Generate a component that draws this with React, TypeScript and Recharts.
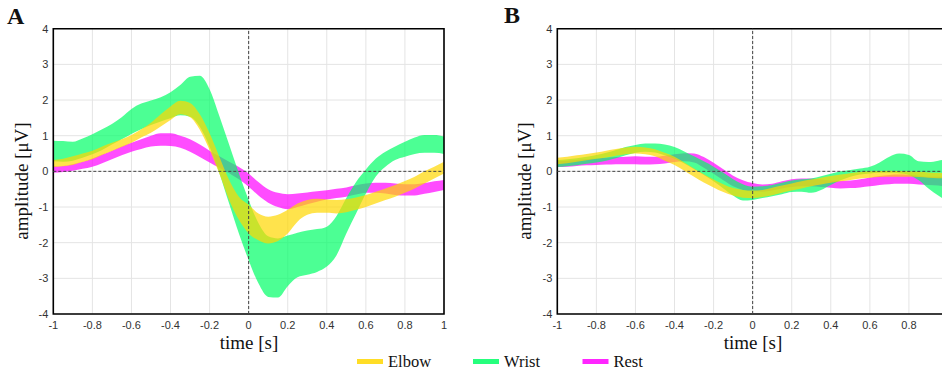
import React from "react";
import {
  ComposedChart,
  Area,
  XAxis,
  YAxis,
  CartesianGrid,
  ReferenceLine,
  ReferenceArea,
} from "recharts";

// sample grid in seconds, -1 .. 1 every 0.05
const TIMES = Array.from({ length: 41 }, (_, i) => Math.round((-1 + i * 0.05) * 100) / 100);

const X_TICKS_A = [-1, -0.8, -0.6, -0.4, -0.2, 0, 0.2, 0.4, 0.6, 0.8, 1];
// panel B is cropped at the right edge of the figure, its "1" label falls outside
const X_TICKS_B = [-1, -0.8, -0.6, -0.4, -0.2, 0, 0.2, 0.4, 0.6, 0.8];
const Y_TICKS = [-4, -3, -2, -1, 0, 1, 2, 3, 4];

// panel A (confidence bands: upper / lower edge)
const ELBOW_A_HI = [0.32, 0.35, 0.42, 0.5, 0.58, 0.7, 0.8, 0.9, 1.02, 1.18, 1.36, 1.6, 1.82, 1.98, 1.92, 1.6, 1.07, 0.41, -0.24, -0.71, -0.94, -1.18, -1.27, -1.22, -1.08, -0.9, -0.8, -0.77, -0.79, -0.8, -0.78, -0.73, -0.66, -0.57, -0.48, -0.38, -0.27, -0.15, 0.0, 0.13, 0.27];
const ELBOW_A_LO = [0.12, 0.14, 0.18, 0.26, 0.34, 0.46, 0.57, 0.68, 0.8, 0.95, 1.08, 1.26, 1.44, 1.6, 1.52, 1.17, 0.6, -0.06, -0.8, -1.36, -1.74, -1.93, -2.02, -1.95, -1.74, -1.41, -1.22, -1.16, -1.16, -1.18, -1.15, -1.08, -1.0, -0.9, -0.8, -0.71, -0.6, -0.48, -0.34, -0.2, -0.06];
const WRIST_A_HI = [0.86, 0.85, 0.83, 0.92, 1.04, 1.18, 1.33, 1.52, 1.75, 1.9, 1.99, 2.08, 2.22, 2.42, 2.65, 2.68, 2.3, 1.55, 0.75, -0.05, -0.8, -1.45, -1.82, -1.88, -1.8, -1.72, -1.66, -1.62, -1.55, -1.25, -0.75, -0.3, 0.05, 0.35, 0.55, 0.7, 0.83, 0.95, 1.02, 1.02, 0.98];
const WRIST_A_LO = [0.28, 0.27, 0.3, 0.38, 0.48, 0.6, 0.75, 0.9, 1.05, 1.18, 1.3, 1.4, 1.49, 1.57, 1.53, 1.25, 0.69, -0.05, -0.9, -1.74, -2.49, -3.14, -3.52, -3.54, -3.22, -2.97, -2.9, -2.82, -2.67, -2.35, -1.74, -1.18, -0.62, -0.15, 0.13, 0.32, 0.41, 0.49, 0.52, 0.52, 0.49];
const REST_A_HI = [0.14, 0.15, 0.2, 0.27, 0.36, 0.47, 0.58, 0.7, 0.8, 0.9, 1.0, 1.07, 1.07, 1.0, 0.9, 0.75, 0.58, 0.42, 0.27, 0.12, -0.06, -0.3, -0.5, -0.6, -0.64, -0.62, -0.59, -0.56, -0.53, -0.49, -0.45, -0.39, -0.34, -0.32, -0.32, -0.34, -0.36, -0.36, -0.33, -0.28, -0.24];
const REST_A_LO = [-0.04, -0.02, 0.02, 0.07, 0.13, 0.23, 0.34, 0.45, 0.55, 0.63, 0.7, 0.72, 0.71, 0.66, 0.55, 0.4, 0.25, 0.1, -0.05, -0.22, -0.43, -0.68, -0.88, -1.0, -1.06, -1.0, -0.92, -0.85, -0.79, -0.75, -0.71, -0.65, -0.6, -0.6, -0.62, -0.66, -0.68, -0.68, -0.63, -0.58, -0.52];

// panel B
const ELBOW_B_HI = [0.38, 0.41, 0.45, 0.49, 0.53, 0.58, 0.63, 0.67, 0.69, 0.67, 0.62, 0.52, 0.41, 0.25, 0.08, -0.08, -0.23, -0.36, -0.47, -0.52, -0.54, -0.52, -0.46, -0.4, -0.34, -0.28, -0.23, -0.18, -0.13, -0.09, -0.05, -0.02, 0.0, 0.01, 0.02, 0.01, 0.0, -0.01, -0.03, -0.04, -0.05];
const ELBOW_B_LO = [0.2, 0.23, 0.27, 0.31, 0.35, 0.39, 0.44, 0.48, 0.5, 0.48, 0.42, 0.3, 0.18, 0.02, -0.15, -0.31, -0.45, -0.58, -0.68, -0.74, -0.75, -0.72, -0.67, -0.6, -0.54, -0.48, -0.42, -0.37, -0.32, -0.28, -0.24, -0.2, -0.18, -0.16, -0.15, -0.15, -0.15, -0.16, -0.18, -0.19, -0.2];
const WRIST_B_HI = [0.32, 0.34, 0.37, 0.41, 0.46, 0.52, 0.6, 0.68, 0.74, 0.78, 0.78, 0.75, 0.68, 0.56, 0.42, 0.28, 0.13, -0.04, -0.22, -0.36, -0.43, -0.42, -0.38, -0.32, -0.26, -0.22, -0.2, -0.14, -0.07, 0.0, 0.04, 0.08, 0.13, 0.25, 0.41, 0.5, 0.46, 0.28, 0.26, 0.3, 0.34];
const WRIST_B_LO = [0.12, 0.14, 0.17, 0.21, 0.25, 0.3, 0.37, 0.45, 0.52, 0.55, 0.53, 0.45, 0.35, 0.22, 0.06, -0.1, -0.28, -0.48, -0.68, -0.82, -0.8, -0.75, -0.7, -0.64, -0.58, -0.57, -0.6, -0.52, -0.38, -0.25, -0.15, -0.09, -0.06, -0.04, -0.04, -0.05, -0.1, -0.25, -0.48, -0.68, -0.85];
const REST_B_HI = [0.28, 0.3, 0.32, 0.34, 0.36, 0.38, 0.4, 0.41, 0.42, 0.41, 0.41, 0.44, 0.48, 0.51, 0.5, 0.4, 0.24, 0.06, -0.12, -0.25, -0.33, -0.37, -0.35, -0.28, -0.22, -0.2, -0.2, -0.23, -0.26, -0.27, -0.26, -0.22, -0.17, -0.13, -0.1, -0.09, -0.1, -0.12, -0.15, -0.15, -0.16];
const REST_B_LO = [0.12, 0.13, 0.15, 0.17, 0.18, 0.19, 0.2, 0.2, 0.2, 0.19, 0.2, 0.22, 0.26, 0.28, 0.25, 0.1, -0.07, -0.25, -0.42, -0.52, -0.56, -0.57, -0.54, -0.48, -0.44, -0.42, -0.42, -0.44, -0.46, -0.48, -0.47, -0.45, -0.42, -0.38, -0.36, -0.35, -0.35, -0.37, -0.38, -0.4, -0.42];

const ELBOW = "#FFD700";
const WRIST = "#00FF66";
const REST = "#FF00FF";

const SERIF = "'Liberation Serif', 'Times New Roman', serif";
const SANS = "'Liberation Sans', Arial, sans-serif";

function buildRows(eHi: number[], eLo: number[], wHi: number[], wLo: number[], rHi: number[], rLo: number[]) {
  return TIMES.map((t, i) => ({
    t,
    elbow: [eLo[i], eHi[i]],
    wrist: [wLo[i], wHi[i]],
    rest: [rLo[i], rHi[i]],
  }));
}

const rowsA = buildRows(ELBOW_A_HI, ELBOW_A_LO, WRIST_A_HI, WRIST_A_LO, REST_A_HI, REST_A_LO);
const rowsB = buildRows(ELBOW_B_HI, ELBOW_B_LO, WRIST_B_HI, WRIST_B_LO, REST_B_HI, REST_B_LO);

const fmt = (v: number) => String(Math.round(v * 10) / 10);

function Panel({ data, left, xTicks }: { data: any[]; left: number; xTicks: number[] }) {
  return (
    <div style={{ position: "absolute", left, top: 0 }}>
      <ComposedChart width={470} height={373} data={data} margin={{ top: 28.7, right: 26, bottom: 29, left: 23.3 }}>
        <CartesianGrid stroke="#e4e4e4" strokeWidth={1} verticalPoints={undefined} />
        <XAxis
          type="number"
          dataKey="t"
          domain={[-1, 1]}
          ticks={xTicks}
          tickFormatter={fmt}
          height={30}
          axisLine={false}
          tickLine={false}
          tickSize={0}
          tickMargin={7}
          tick={{ fontSize: 11, fill: "#333", fontFamily: SANS }}
          allowDataOverflow
        />
        <YAxis
          type="number"
          domain={[-4, 4]}
          ticks={Y_TICKS}
          width={30}
          axisLine={false}
          tickLine={false}
          tickSize={0}
          tickMargin={5}
          tick={{ fontSize: 11, fill: "#333", fontFamily: SANS }}
          allowDataOverflow
        />
        <Area dataKey="rest" type="monotone" stroke="none" fill={REST} fillOpacity={0.7} isAnimationActive={false} />
        <Area dataKey="wrist" type="monotone" stroke="none" fill={WRIST} fillOpacity={0.7} isAnimationActive={false} />
        <Area dataKey="elbow" type="monotone" stroke="none" fill={ELBOW} fillOpacity={0.7} isAnimationActive={false} />
        <ReferenceLine y={0} stroke="#444" strokeWidth={1} strokeDasharray="3 2" />
        <ReferenceLine x={0} stroke="#444" strokeWidth={1} strokeDasharray="3 2" />
        <ReferenceArea x1={-1} x2={1} y1={-4} y2={4} fill="none" stroke="#000" strokeWidth={1.6} />
      </ComposedChart>
    </div>
  );
}

const LEGEND = [
  { name: "Elbow", color: ELBOW, x: 357 },
  { name: "Wrist", color: WRIST, x: 473 },
  { name: "Rest", color: REST, x: 582.5 },
];

export default function App() {
  return (
    <div
      style={{
        position: "fixed",
        left: 0,
        top: 0,
        width: 942,
        height: 373,
        overflow: "hidden",
        background: "#fff",
      }}
    >
      <Panel data={rowsA} left={0} xTicks={X_TICKS_A} />
      <Panel data={rowsB} left={504} xTicks={X_TICKS_B} />
      <svg width={942} height={373} style={{ position: "absolute", left: 0, top: 0, pointerEvents: "none" }}>
        <text x={7} y={24} fontFamily={SERIF} fontWeight="bold" fontSize={24} fill="#111">A</text>
        <text x={504} y={23} fontFamily={SERIF} fontWeight="bold" fontSize={24} fill="#111">B</text>

        <text x={249} y={349} textAnchor="middle" fontFamily={SERIF} fontSize={19} fill="#111">time [s]</text>
        <text x={753} y={349} textAnchor="middle" fontFamily={SERIF} fontSize={19} fill="#111">time [s]</text>

        <text x={28} y={181} transform="rotate(-90 28 181)" textAnchor="middle" fontFamily={SERIF} fontSize={19} fill="#111">
          amplitude [μV]
        </text>
        <text x={531} y={181} transform="rotate(-90 531 181)" textAnchor="middle" fontFamily={SERIF} fontSize={19} fill="#111">
          amplitude [μV]
        </text>

        {LEGEND.map((item) => (
          <g key={item.name}>
            <rect x={item.x} y={359} width={26} height={5} fill={item.color} fillOpacity={0.85} />
            <text x={item.x + 31} y={366.5} fontFamily={SERIF} fontSize={16.5} fill="#111">
              {item.name}
            </text>
          </g>
        ))}
      </svg>
    </div>
  );
}
